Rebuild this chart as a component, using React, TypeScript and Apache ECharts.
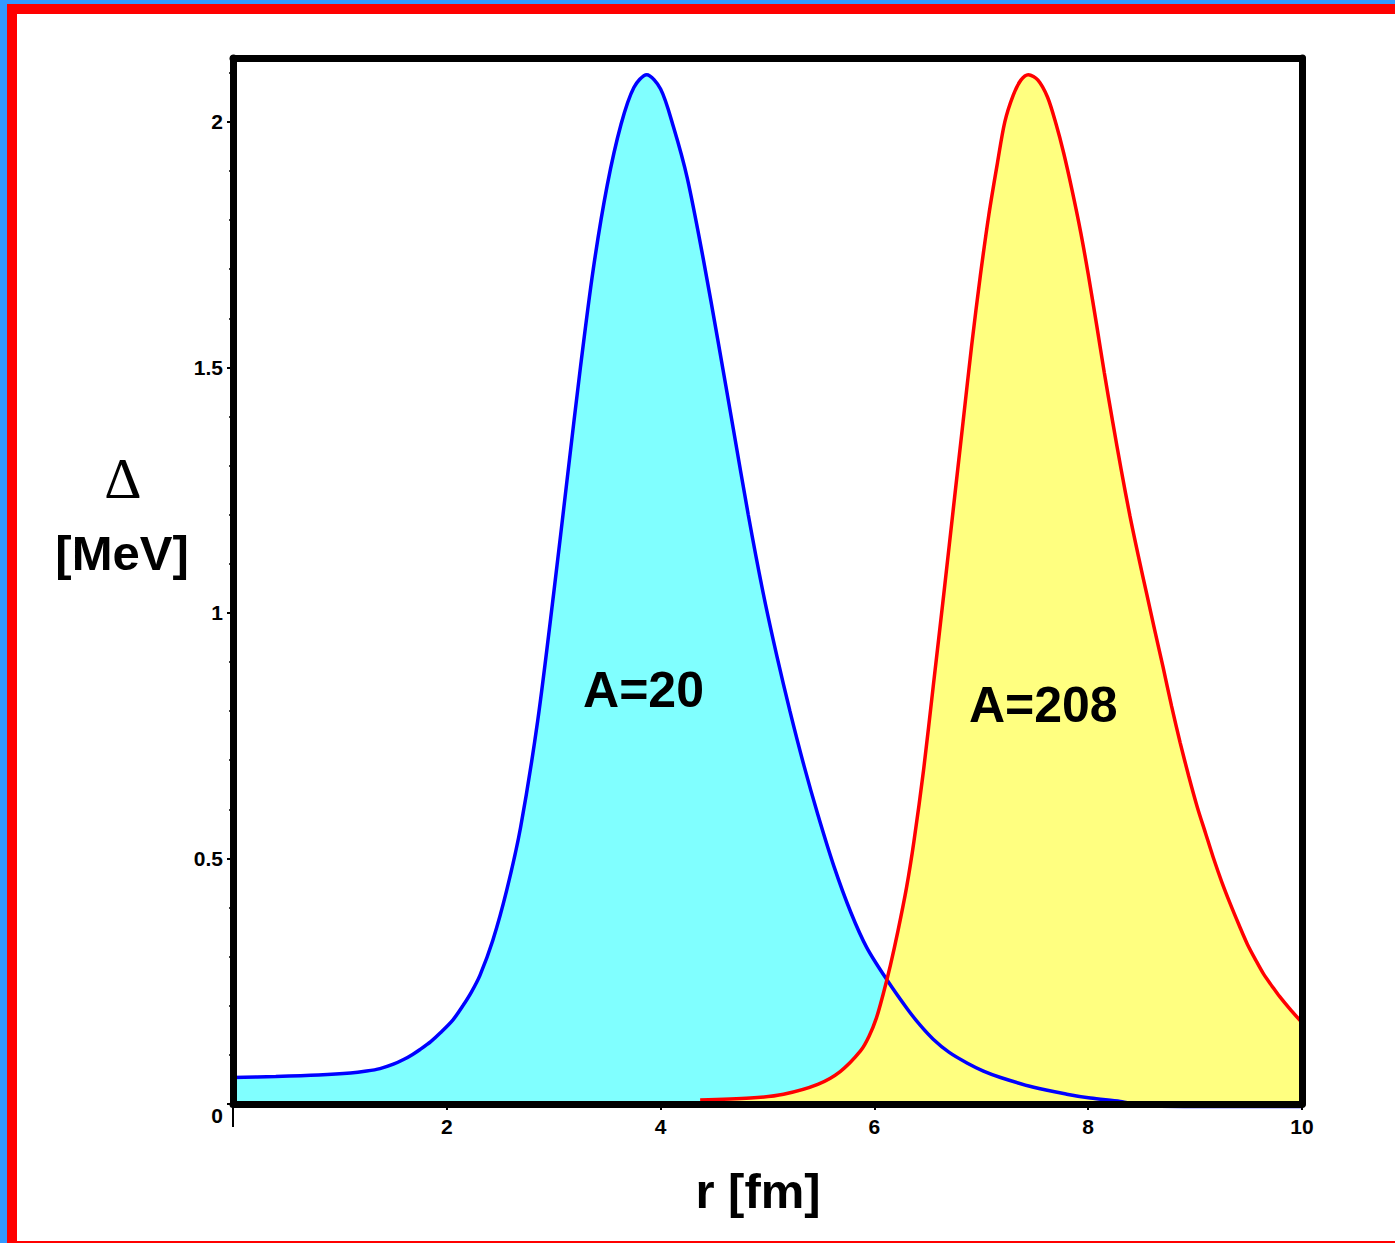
import React, { useEffect, useRef } from "react";
import * as echarts from "echarts";

// A=20 curve (blue)
const blueR = [0.0, 0.4, 0.8, 1.1, 1.25, 1.375, 1.5, 1.6, 1.68, 1.75, 1.85, 1.94, 2.06, 2.15, 2.23, 2.31, 2.43, 2.56, 2.69, 2.85, 3.0, 3.13, 3.25, 3.37, 3.5, 3.63, 3.75, 3.87, 4.0, 4.12, 4.25, 4.4, 4.54, 4.68, 4.82, 4.96, 5.09, 5.21, 5.34, 5.47, 5.62, 5.78, 5.93, 6.12, 6.31, 6.43, 6.55, 6.7, 6.87, 7.02, 7.18, 7.49, 7.8, 8.02, 8.3, 8.56, 9.2, 10.0];
const blueDelta = [0.054, 0.056, 0.059, 0.063, 0.067, 0.072, 0.081, 0.091, 0.101, 0.111, 0.127, 0.145, 0.172, 0.2, 0.228, 0.262, 0.333, 0.435, 0.563, 0.78, 1.04, 1.28, 1.5, 1.7, 1.87, 1.995, 2.07, 2.096, 2.067, 1.99, 1.885, 1.72, 1.55, 1.375, 1.2, 1.04, 0.91, 0.8, 0.69, 0.59, 0.485, 0.39, 0.318, 0.252, 0.193, 0.16, 0.132, 0.105, 0.083, 0.067, 0.054, 0.034, 0.02, 0.012, 0.005, -0.004, -0.005, -0.005];

// A=208 curve (red)
const redR = [4.37, 4.84, 5.15, 5.47, 5.68, 5.87, 5.95, 6.02, 6.08, 6.15, 6.22, 6.3, 6.37, 6.46, 6.55, 6.65, 6.75, 6.83, 6.91, 6.99, 7.07, 7.15, 7.22, 7.3, 7.37, 7.44, 7.53, 7.62, 7.7, 7.77, 7.85, 7.93, 8.0, 8.08, 8.15, 8.23, 8.31, 8.39, 8.47, 8.55, 8.62, 8.7, 8.78, 8.86, 8.94, 9.02, 9.1, 9.17, 9.25, 9.33, 9.41, 9.49, 9.57, 9.64, 9.72, 9.79, 9.9, 10.0];
const redDelta = [0.008, 0.012, 0.02, 0.04, 0.066, 0.108, 0.138, 0.176, 0.222, 0.283, 0.352, 0.44, 0.535, 0.68, 0.85, 1.04, 1.235, 1.39, 1.545, 1.685, 1.81, 1.915, 2.0, 2.055, 2.085, 2.096, 2.085, 2.05, 1.995, 1.937, 1.86, 1.775, 1.69, 1.585, 1.49, 1.388, 1.29, 1.198, 1.115, 1.036, 0.967, 0.89, 0.81, 0.736, 0.668, 0.605, 0.55, 0.502, 0.452, 0.407, 0.365, 0.325, 0.292, 0.265, 0.24, 0.219, 0.19, 0.166];

const xTickValues = [2, 4, 6, 8, 10];
const yTickValues = [0, 0.5, 1, 1.5, 2];
const originTick = [0];

const curveLabels = ["A=20", "A=208"];
const curveLabelR = [3.84, 7.58];
const curveLabelDelta = [0.843, 0.812];

const SANS = "'Liberation Sans', Arial, Helvetica, sans-serif";

export default function App() {
  const ref = useRef<HTMLDivElement>(null);

  useEffect(() => {
    const chart = echarts.init(ref.current!, null, { renderer: "svg" });
    const blue = blueR.map((r, i) => [r, blueDelta[i]]);
    const red = redR.map((r, i) => [r, redDelta[i]]);
    const tickLabel = { fontSize: 21, fontWeight: "bold", fontFamily: SANS, color: "#000" };
    const frameLine = { show: true, onZero: false, lineStyle: { color: "#000", width: 7 } };
    const hidden = { show: false };

    const mkLabel = (i: number) => ({
      symbol: "circle",
      symbolSize: 1,
      itemStyle: { color: "rgba(0,0,0,0)" },
      data: [
        {
          coord: [curveLabelR[i], curveLabelDelta[i]],
          label: {
            show: true,
            position: "inside",
            formatter: curveLabels[i],
            fontSize: 50,
            fontWeight: "bold",
            fontFamily: SANS,
            color: "#000",
          },
        },
      ],
    });

    chart.setOption({
      animation: false,
      grid: { left: 233, top: 58, right: 93, bottom: 139, containLabel: false },
      xAxis: [
        {
          type: "value",
          min: 0,
          max: 10,
          interval: 2,
          position: "bottom",
          z: 5,
          axisLine: frameLine,
          axisTick: { show: true, customValues: xTickValues, length: 6, lineStyle: { color: "#000", width: 2 } },
          minorTick: { show: true, splitNumber: 5, length: 4, lineStyle: { color: "#000", width: 1.5 } },
          axisLabel: { ...tickLabel, customValues: xTickValues, margin: 12 },
          splitLine: hidden,
        },
        {
          type: "value",
          min: 0,
          max: 10,
          position: "top",
          z: 5,
          axisLine: frameLine,
          axisTick: hidden,
          axisLabel: hidden,
          splitLine: hidden,
        },
        {
          type: "value",
          min: 0,
          max: 10,
          position: "bottom",
          z: 5,
          axisLine: { show: false, onZero: false },
          axisTick: { show: true, customValues: originTick, length: 23, lineStyle: { color: "#000", width: 2 } },
          axisLabel: hidden,
          splitLine: hidden,
        },
      ],
      yAxis: [
        {
          type: "value",
          min: 0,
          max: 2.13,
          interval: 0.5,
          position: "left",
          z: 5,
          axisLine: frameLine,
          axisTick: { show: true, customValues: yTickValues, length: 6, lineStyle: { color: "#000", width: 2 } },
          minorTick: { show: true, splitNumber: 5, length: 4, lineStyle: { color: "#000", width: 1.5 } },
          axisLabel: {
            ...tickLabel,
            customValues: yTickValues,
            margin: 10,
            formatter: (v: number) => (v === 0 ? "{z|0}" : String(v)),
            rich: { z: { ...tickLabel, padding: [22, 0, 0, 0] } },
          },
          splitLine: hidden,
        },
        {
          type: "value",
          min: 0,
          max: 2.13,
          position: "right",
          z: 5,
          axisLine: frameLine,
          axisTick: hidden,
          axisLabel: hidden,
          splitLine: hidden,
        },
      ],
      series: [
        {
          type: "line",
          data: blue,
          smooth: 0.3,
          symbol: "none",
          lineStyle: { width: 0, opacity: 0 },
          areaStyle: { color: "#80FFFF", opacity: 1 },
          z: 1,
        },
        {
          type: "line",
          data: red,
          smooth: 0.3,
          symbol: "none",
          lineStyle: { width: 0, opacity: 0 },
          areaStyle: { color: "#FFFF80", opacity: 1 },
          z: 2,
        },
        {
          type: "line",
          data: blue,
          smooth: 0.3,
          symbol: "none",
          clip: false,
          lineStyle: { color: "#0000FF", width: 3.5 },
          z: 3,
          markPoint: mkLabel(0),
        },
        {
          type: "line",
          data: red,
          smooth: 0.3,
          symbol: "none",
          lineStyle: { color: "#FF0000", width: 3.5 },
          z: 3,
          markPoint: mkLabel(1),
        },
      ],
      graphic: [
        {
          type: "text",
          x: 123,
          y: 478,
          style: {
            text: "Δ",
            fontSize: 58,
            fontFamily: "'Liberation Serif', 'Times New Roman', serif",
            fill: "#000",
            align: "center",
            verticalAlign: "middle",
          },
        },
        {
          type: "text",
          x: 122,
          y: 553,
          style: {
            text: "[MeV]",
            fontSize: 49,
            fontWeight: "bold",
            fontFamily: SANS,
            fill: "#000",
            align: "center",
            verticalAlign: "middle",
          },
        },
        {
          type: "text",
          x: 758,
          y: 1191,
          style: {
            text: "r [fm]",
            fontSize: 49,
            fontWeight: "bold",
            fontFamily: SANS,
            fill: "#000",
            align: "center",
            verticalAlign: "middle",
          },
        },
      ],
    });
    return () => chart.dispose();
  }, []);

  const strip = (left: number, top: number, width: number, height: number, color: string) => (
    <div style={{ position: "absolute", left, top, width, height, background: color, zIndex: 2 }} />
  );

  return (
    <div style={{ position: "fixed", left: 0, top: 0, width: 1395, height: 1243, background: "#fff", overflow: "hidden" }}>
      <div ref={ref} style={{ position: "absolute", left: 0, top: 0, width: 1395, height: 1243, zIndex: 1 }} />
      {strip(0, 0, 7, 1243, "#3399FF")}
      {strip(0, 0, 1395, 4, "#3399FF")}
      {strip(7, 4, 10, 1239, "#FF0000")}
      {strip(7, 4, 1388, 10, "#FF0000")}
      {strip(7, 1241, 1388, 2, "#FF0000")}
    </div>
  );
}
